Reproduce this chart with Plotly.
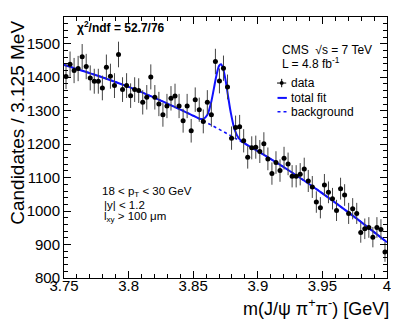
import plotly.graph_objects as go

# histogram: 80 bins of 3.125 MeV from 3.75 to 4.0 GeV
bin_start = 3.75
bin_width = 0.003125
counts = [1402, 1439, 1420, 1426, 1461, 1432, 1398, 1388, 1388, 1368,
          1430, 1403, 1375, 1468, 1363, 1375, 1345, 1363, 1360, 1325,
          1340, 1401, 1340, 1320, 1288, 1314, 1337, 1344, 1314, 1270,
          1314, 1240, 1333, 1303, 1268, 1325, 1288, 1447, 1389, 1427,
          1371, 1218, 1250, 1252, 1210, 1161, 1189, 1191, 1178, 1201,
          1156, 1112, 1145, 1121, 1158, 1141, 1104, 1104, 1110, 1126,
          1090, 1072, 1027, 1010, 1078, 1056, 1037, 1002, 1067, 1048,
          993, 1007, 993, 936, 947, 951, 922, 951, 945, 878]

# fit curves
fit_mass = [3.75, 3.775, 3.80, 3.825, 3.85, 3.855, 3.858, 3.861, 3.864, 3.866,
            3.868, 3.870, 3.8715, 3.873, 3.875, 3.877, 3.879, 3.882, 3.885,
            3.888, 3.892, 3.90, 3.925, 3.95, 3.975, 4.0]
fit_total = [1437, 1406, 1371, 1330, 1285, 1276, 1276, 1288, 1327, 1366,
             1406, 1434, 1439, 1428, 1392, 1343, 1296, 1244, 1219,
             1207, 1197, 1179, 1119, 1053, 982, 907]
bg_mass = [3.75, 3.775, 3.80, 3.825, 3.85, 3.875, 3.90, 3.925, 3.95, 3.975, 4.0]
bg_values = [1437, 1406, 1371, 1330, 1285, 1234, 1179, 1119, 1053, 982, 907]

x_ticks = [3.75, 3.8, 3.85, 3.9, 3.95, 4.0]
x_tick_text = ['3.75', '3.8', '3.85', '3.9', '3.95', '4']
y_ticks = [800, 900, 1000, 1100, 1200, 1300, 1400, 1500]

FONT = 'Liberation Sans, Arial, sans-serif'
BLUE = '#1010ff'

fig = go.Figure()

fig.add_trace(go.Scatter(x=bg_mass, y=bg_values, mode='lines',
                         line=dict(color=BLUE, width=1.6, dash='dot', shape='spline')))
fig.add_trace(go.Scatter(x=fit_mass, y=fit_total, mode='lines',
                         line=dict(color=BLUE, width=2, shape='spline', smoothing=0.8)))
fig.add_trace(go.Scatter(
    x0=bin_start + bin_width / 2, dx=bin_width, y=counts, mode='markers',
    marker=dict(color='black', size=5),
    error_y=dict(type='sqrt', color='#444', thickness=1, width=0),
    error_x=dict(type='constant', value=bin_width / 2, color='black', thickness=1, width=0),
))

axis_common = dict(showline=True, linecolor='black', linewidth=1, mirror='allticks',
                   ticks='inside', ticklen=7, tickcolor='black', showgrid=False,
                   zeroline=False, tickfont=dict(family=FONT, size=15, color='black'))

fig.update_xaxes(range=[3.75, 4.0], tickvals=x_ticks, ticktext=x_tick_text,
                 ticklabelstandoff=-6,
                 minor=dict(ticks='inside', ticklen=4, dtick=0.01, tickcolor='black'),
                 **axis_common)
fig.update_yaxes(range=[800, 1580], tickvals=y_ticks,
                 minor=dict(ticks='inside', ticklen=4, dtick=20, tickcolor='black'),
                 **axis_common)

def txt(x, y, s, size=12, **kw):
    fig.add_annotation(x=x, y=y, xref='paper', yref='paper', text=s, showarrow=False,
                       xanchor=kw.pop('xanchor', 'left'), yanchor=kw.pop('yanchor', 'middle'),
                       font=dict(family=FONT, size=size, color='black'), **kw)

txt(0.034, 0.962, '<b>χ<sup>2</sup>/ndf = 52.7/76</b>', 12)
txt(0.669, 0.874, 'CMS  √s = 7 TeV', 12)
txt(0.669, 0.823, 'L = 4.8 fb<sup>-1</sup>', 12)
txt(0.698, 0.747, 'data', 12)
txt(0.698, 0.690, 'total fit', 12)
txt(0.698, 0.637, 'background', 12)
txt(0.110, 0.329, '18 < p<sub>T</sub> < 30 GeV', 11.5)
txt(0.118, 0.279, '|y| < 1.2', 11.5)
txt(0.118, 0.234, 'l<sub>xy</sub> > 100 μm', 11.5)

# axis titles (right aligned, ROOT style)
txt(1.012, -0.112, 'm(J/ψ π<sup>+</sup>π<sup>-</sup>) [GeV]', 18, xanchor='right')
txt(-0.144, 0.995, 'Candidates / 3.125 MeV', 19, xanchor='center', yanchor='top', textangle=-90)

# legend glyphs
fig.add_shape(type='line', xref='paper', yref='paper', x0=0.6596, x1=0.688, y0=0.747, y1=0.747,
              line=dict(color='black', width=1))
fig.add_shape(type='line', xref='paper', yref='paper', x0=0.674, x1=0.674, y0=0.731, y1=0.763,
              line=dict(color='black', width=1))
fig.add_shape(type='circle', xref='paper', yref='paper', x0=0.668, x1=0.680, y0=0.740, y1=0.755,
              fillcolor='black', line=dict(color='black', width=0))
fig.add_shape(type='line', xref='paper', yref='paper', x0=0.661, x1=0.69, y0=0.690, y1=0.690,
              line=dict(color=BLUE, width=2))
fig.add_shape(type='line', xref='paper', yref='paper', x0=0.661, x1=0.69, y0=0.637, y1=0.637,
              line=dict(color=BLUE, width=1.6, dash='dot'))

# page body has an 8px margin, so the figure is 8px smaller than the window
fig.update_layout(width=391, height=314, showlegend=False,
                  margin=dict(l=56, r=8, t=8, b=44),
                  plot_bgcolor='white', paper_bgcolor='white')

fig.write_html("out.html")
